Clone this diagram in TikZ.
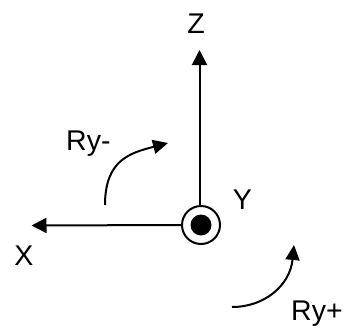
\documentclass[tikz,border=0pt]{standalone}
\usepackage{fontspec}
\setmainfont{Liberation Sans}
\usetikzlibrary{arrows.meta}
\begin{document}
\begin{tikzpicture}[x=1pt,y=-1pt,
  axis/.style={line width=2pt,-{Triangle[length=15pt,width=15pt]}},
  rot/.style={line width=2pt,-{Triangle[length=15pt,width=14pt]}},
  lbl/.style={inner sep=0pt,font=\fontsize{28.5}{32}\selectfont}]
\useasboundingbox (0,0) rectangle (345,332);
\node[draw,circle,line width=2pt,minimum size=38pt,inner sep=0pt] (O) at (201,225) {};
\fill (O.center) circle (10.5pt);
\coordinate (ztip) at (199.5,50);
\coordinate (xtip) at (31.5,225.5);
\draw[axis] ([xshift=-1.5pt]O.north) -- (ztip);
\draw[axis] (O.west) -- (xtip);
\coordinate (a1) at (105,205);
\coordinate (a2) at (168,143);
\draw[rot] (a1) .. controls (105,160) and (130,153) .. (a2);
\coordinate (b1) at (232,307);
\coordinate (b2) at (294,245);
\draw[rot] (b1) .. controls (265,307) and (290,285) .. (b2);
\node[lbl,anchor=base] (Z) at (196,33.3) {Z};
\node[lbl,anchor=base] (Y) at (242.3,209.3) {Y};
\node[lbl,anchor=base] (X) at (24,265) {X};
\node[lbl,anchor=base west] (Rm) at (66,150) {Ry-};
\node[lbl,anchor=base west] (Rp) at (291,320.7) {Ry+};
\end{tikzpicture}
\end{document}
